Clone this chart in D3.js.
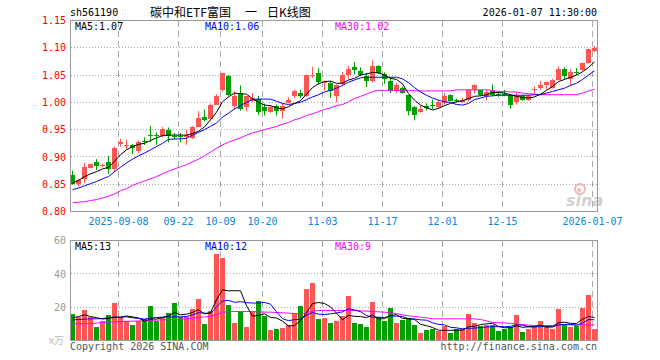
<!DOCTYPE html>
<html><head><meta charset="utf-8">
<script src="https://cdn.jsdelivr.net/npm/d3@7"></script>
<style>
body{margin:0;background:#fff}
svg{display:block}
text{font-family:"DejaVu Sans Mono",monospace;font-size:10px}
</style>
</head><body>
<svg id="c" width="660" height="360"></svg>
<script>
// ---------- data ----------
const code = "sh561190";
const titleParts = ["碳中和ETF富国","一","日K线图"];
const stamp = "2026-01-07 11:30:00";
const tickLabels = ["2025-09-08","09-22","10-09","10-20","11-03","11-17","12-01","12-15","2026-01-07"];
const tickIndex  = [8,18,25,32,42,52,62,72,87];
const priceTicks = [0.80,0.85,0.90,0.95,1.00,1.05,1.10,1.15];
const volTicks = [20,40,60];

const open = [.866,.851,.860,.880,.891,.883,.891,.878,.923,.921,.921,.910,.930,.941,.941,.939,.950,.939,.938,.937,.935,.955,.973,.970,.996,
1.022,1.049,.994,1.018,.992,1.002,1.007,.991,.982,.994,.985,.998,1.011,1.018,1.012,1.050,1.053,1.036,1.036,1.012,1.033,1.051,1.064,1.058,1.049,1.039,1.067,1.052,1.039,1.020,1.026,1.013,.991,
.982,.994,.995,.992,.998,1.014,1.004,1.001,1.004,1.025,1.022,1.011,1.020,1.016,1.016,1.013,1.000,1.011,1.005,1.022,1.026,1.031,1.026,1.041,1.061,1.042,1.055,1.059,1.072,1.095];
const close = [.851,.858,.881,.887,.884,.886,.878,.917,.928,.922,.916,.927,.928,.940,.940,.952,.939,.938,.937,.940,.955,.971,.967,.996,1.012,
1.053,1.014,1.012,.988,1.011,1.008,.982,.984,.992,.985,.994,1.004,1.020,1.012,1.051,1.051,1.037,1.038,1.020,1.031,1.051,1.061,1.059,1.050,1.039,1.067,1.053,1.043,1.020,1.031,1.018,.984,.977,
.988,.989,.994,1.000,1.012,1.003,1.002,1.005,1.022,1.031,1.014,1.019,1.013,1.015,1.015,.996,1.011,1.005,1.012,1.025,1.031,1.037,1.041,1.061,1.048,1.055,1.054,1.072,1.097,1.099];
const high = [.875,.860,.889,.888,.896,.887,.902,.919,.933,.932,.924,.930,.936,.957,.945,.955,.954,.944,.944,.950,.957,.984,.987,.998,1.015,
1.054,1.050,1.020,1.031,1.012,1.017,1.012,.998,.994,.996,.998,1.009,1.023,1.023,1.051,1.065,1.063,1.040,1.039,1.033,1.055,1.067,1.074,1.064,1.054,1.077,1.068,1.055,1.045,1.036,1.029,1.014,.993,
.994,.998,1.005,1.004,1.017,1.015,1.007,1.008,1.023,1.033,1.023,1.022,1.033,1.020,1.023,1.014,1.018,1.014,1.014,1.029,1.039,1.038,1.043,1.066,1.064,1.061,1.063,1.073,1.098,1.103];
const low = [.849,.846,.852,.879,.876,.881,.869,.873,.919,.914,.905,.907,.922,.927,.922,.936,.927,.932,.927,.922,.933,.955,.965,.970,.996,
1.020,1.011,.987,.985,.984,1.000,.977,.976,.981,.976,.970,.998,1.008,1.008,1.010,1.045,1.033,1.022,1.008,1.000,1.031,1.043,1.051,1.048,1.028,1.037,1.052,1.034,1.017,1.017,1.016,.976,.967,
.981,.985,.988,.990,.996,1.002,.999,.999,1.002,1.016,1.012,1.004,1.011,1.010,1.011,.988,.996,1.003,1.003,1.016,1.023,1.024,1.025,1.040,1.042,1.031,1.050,1.057,1.071,1.092];

const ma5 = [.852,.857,.864,.869,.873,.878,.881,.892,.904,.913,.919,.923,.925,.930,.935,.939,.940,.940,.940,.940,.943,.947,.955,.968,.982,
1.001,1.010,1.017,1.016,1.015,1.007,1.000,.995,.994,.990,.988,.992,.998,1.003,1.015,1.027,1.034,1.038,1.039,1.035,1.035,1.041,1.044,1.050,1.052,1.055,1.054,1.050,1.044,1.042,1.034,1.016,1.004,
.995,.990,.986,.989,.994,.998,1.001,1.003,1.007,1.011,1.012,1.014,1.018,1.018,1.017,1.014,1.011,1.009,1.008,1.010,1.015,1.022,1.029,1.038,1.042,1.046,1.050,1.056,1.064,1.074];
const ma10 = [.840,.843,.847,.851,.855,.860,.864,.873,.881,.889,.896,.902,.907,.913,.919,.925,.932,.933,.933,.934,.940,.945,.950,.956,.962,
.973,.980,.988,.994,1.000,1.005,1.006,1.006,1.006,1.002,.998,.996,.998,1.000,1.005,1.010,1.014,1.019,1.022,1.026,1.031,1.037,1.041,1.045,1.046,1.046,1.046,1.046,1.046,1.046,1.043,1.036,1.027,
1.019,1.013,1.008,1.004,1.001,1.000,.996,.995,.998,1.005,1.008,1.011,1.012,1.013,1.013,1.013,1.013,1.013,1.013,1.014,1.014,1.017,1.020,1.023,1.026,1.031,1.035,1.042,1.050,1.058];
const ma30 = [.816,.817,.818,.820,.822,.825,.828,.832,.838,.842,.848,.852,.856,.860,.864,.869,.874,.878,.882,.886,.891,.896,.902,.909,.916,
.922,.927,.931,.935,.940,.944,.947,.950,.953,.956,.960,.963,.968,.971,.976,.979,.983,.987,.990,.994,.996,1.001,1.007,1.011,1.015,1.020,1.022,1.022,1.022,1.022,1.022,1.022,1.021,
1.021,1.021,1.021,1.021,1.021,1.021,1.023,1.023,1.023,1.023,1.023,1.023,1.022,1.020,1.020,1.019,1.019,1.017,1.016,1.015,1.014,1.014,1.014,1.014,1.014,1.014,1.014,1.017,1.021,1.024];

const volume = [15.6,13.6,18.0,13.6,7.8,11.4,15.0,22.2,13.6,11.4,9.0,11.4,12.4,20.4,11.4,13.6,16.2,22.2,13.6,13.6,18.6,24.6,9.6,17.4,51.6,
49.2,21.0,10.2,17.0,7.8,17.0,23.4,14.6,6.0,6.6,7.4,9.0,16.0,20.4,30.6,34.4,12.6,13.2,10.2,11.4,14.4,26.4,10.2,9.6,7.8,23.0,13.8,11.4,19.2,10.2,12.0,13.2,9.0,
4.2,6.0,6.6,5.4,8.4,4.2,6.6,6.6,15.6,10.2,8.4,9.0,9.0,5.4,6.6,7.8,15.0,4.8,6.6,8.0,11.4,9.0,6.6,18.6,9.6,7.8,8.4,19.4,27.0,6.6];
const vma5 = [13.6,14.4,15.4,14.4,13.7,12.9,13.2,14.0,14.0,14.7,14.2,13.5,11.6,12.9,12.9,13.8,14.8,16.8,15.4,15.8,16.8,18.5,16.0,16.8,24.4,
30.5,29.8,29.9,29.8,21.0,14.6,15.1,16.0,13.8,13.5,11.6,8.7,9.0,11.9,16.7,22.1,22.8,22.2,20.2,16.4,12.4,15.1,14.5,14.4,13.7,15.4,12.9,13.1,15.0,15.5,13.3,13.2,12.7,
9.7,8.9,7.8,6.2,6.1,6.1,6.2,6.2,8.3,8.6,9.5,10.0,10.4,8.4,7.7,7.6,8.8,7.9,8.2,8.4,9.2,8.0,8.3,10.7,11.0,10.3,10.2,12.8,14.4,13.8];
const vma10 = [12.4,12.6,12.8,13.0,13.0,13.2,13.6,14.0,14.0,14.2,13.6,13.3,12.8,13.5,13.8,14.0,14.2,14.2,14.2,14.4,15.3,16.7,16.4,16.1,20.1,
23.7,24.1,22.9,23.3,22.7,22.5,22.4,22.9,21.8,17.3,13.1,11.9,12.5,12.8,15.1,16.8,15.8,15.6,16.0,16.5,17.2,19.0,18.4,17.3,15.0,13.9,14.0,13.8,14.7,14.6,14.4,13.0,12.9,
12.4,12.2,10.6,9.7,9.4,7.9,7.6,7.0,7.3,7.4,7.8,8.1,8.3,8.3,8.2,8.5,9.4,9.2,8.3,8.1,8.4,8.4,8.1,9.4,9.7,9.7,9.1,10.5,12.6,12.4];
const vma30 = [10.0,10.0,10.0,10.2,10.4,10.8,11.0,11.2,11.4,11.5,11.6,11.7,11.8,12.0,12.2,12.4,12.5,12.6,12.8,13.0,13.4,13.8,14.2,14.4,15.6,
17.0,17.2,17.4,17.4,17.4,17.4,17.2,17.0,17.0,16.8,16.6,16.4,16.2,16.0,16.6,17.6,18.0,18.0,18.0,18.0,18.0,18.0,18.0,17.8,17.6,17.4,17.2,17.0,16.6,16.2,15.4,14.8,14.4,
14.0,13.6,13.0,13.0,13.0,13.0,13.0,13.0,13.0,13.0,12.6,11.8,10.8,10.6,10.6,10.2,10.0,9.6,9.2,9.0,9.0,9.0,9.0,9.2,9.4,9.4,9.4,9.4,9.4,9.4];

const priceLegend = [["MA5:1.07","#000"],["MA10:1.06","#0000ff"],["MA30:1.02","#ff00ff"]];
const volLegend = [["MA5:13","#000"],["MA10:12","#0000ff"],["MA30:9","#ff00ff"]];

// ---------- drawing ----------
const RED="#ff5555", GREEN="#00a000";
const n = open.length;
const svg = d3.select("#c");
const L=70, W=528;
const x = d3.scaleBand().domain(d3.range(n)).range([L, L+W]).paddingInner(1/6).paddingOuter(1/12).align(0);
const cx = i => x(i) + x.bandwidth()/2;
const y = d3.scaleLinear().domain([0.80,1.15]).range([211.5,20.5]);
const yv = d3.scaleLinear().domain([0,60]).range([340.5,240.5]);

// header
svg.append("text").attr("x",70).attr("y",16).attr("fill","#000").text(code);
[150,245,267].forEach((tx,k)=>{
  svg.append("text").attr("x",tx).attr("y",17)
    .style("font-family",'"Noto Sans CJK SC",sans-serif').style("font-size","12px").attr("fill","#000").text(titleParts[k]);
});
svg.append("text").attr("x",597).attr("y",16).attr("text-anchor","end").attr("fill","#000").text(stamp);

function panel(top,bottom,gridVals,ys){
  const g = svg.append("g");
  gridVals.forEach(v=>{
    const yy = Math.round(ys(v)-0.5)+0.5;
    g.append("line").attr("x1",71).attr("x2",597).attr("y1",yy).attr("y2",yy)
      .attr("stroke","#aaa").attr("stroke-dasharray","1,2");
  });
  tickIndex.forEach(i=>{
    const xx = x(i)+0.5;
    g.append("line").attr("x1",xx).attr("x2",xx).attr("y1",top).attr("y2",bottom)
      .attr("stroke","#aaa").attr("stroke-dasharray","6,4");
  });
  return g;
}

// price panel
panel(21,211,[0.85,0.90,0.95,1.00,1.05,1.10],y);
svg.append("g").selectAll("g.c").data(d3.range(n)).join("g").each(function(i){
  const g=d3.select(this);
  const up = close[i]>=open[i];
  const col = up?RED:GREEN;
  g.append("line").attr("x1",cx(i)).attr("x2",cx(i)).attr("y1",y(high[i])).attr("y2",y(low[i])).attr("stroke",col);
  const t = Math.round(y(Math.max(open[i],close[i])));
  const b = Math.round(y(Math.min(open[i],close[i])));
  g.append("rect").attr("x",x(i)).attr("width",x.bandwidth()).attr("y",t).attr("height",Math.max(1,b-t)).attr("fill",col);
});
const pline = d3.line().x((d,i)=>cx(i)).y(d=>y(d));
[[ma30,"#ff00ff"],[ma10,"#0000ff"],[ma5,"#000"]].forEach(([arr,c])=>{
  svg.append("path").attr("d",pline(arr)).attr("fill","none").attr("stroke",c).attr("stroke-width",1);
});

// sina watermark
const wm = svg.append("g").attr("opacity",0.85);
wm.append("circle").attr("cx",580).attr("cy",189).attr("r",5).attr("fill","none").attr("stroke","#f3a5a5").attr("stroke-width",2);
wm.append("circle").attr("cx",579).attr("cy",190).attr("r",2).attr("fill","#f3a5a5");
wm.append("text").attr("x",566).attr("y",206).style("font-family","DejaVu Sans").style("font-size","16px")
  .style("font-style","italic").style("font-weight","bold").attr("fill","#c9c9c9").text("sina");

svg.append("rect").attr("x",70.5).attr("y",20.5).attr("width",527).attr("height",191)
  .attr("fill","none").attr("stroke","#999");

// price y labels
const ay = svg.append("g").attr("transform","translate(70,0)")
  .call(d3.axisLeft(y).tickValues(priceTicks).tickFormat(d3.format(".2f")).tickSize(0).tickPadding(4));
ay.select(".domain").remove();
ay.selectAll("text").attr("fill","#ff0000").style("font-family",'"DejaVu Sans Mono",monospace').style("font-size","10px");

// date labels
svg.append("g").selectAll("text").data(tickIndex).join("text")
  .attr("x",i=>x(i)+0.5).attr("y",225).attr("text-anchor","middle").attr("fill","#0a86d8")
  .text((d,k)=>tickLabels[k]);

// legends
priceLegend.forEach(([t,c],k)=>svg.append("text").attr("x",75+k*130).attr("y",29.5).attr("fill",c).text(t));

// volume panel
panel(241,340,[20,40],yv);
svg.append("g").selectAll("rect").data(d3.range(n)).join("rect")
  .attr("x",i=>x(i)).attr("width",x.bandwidth())
  .attr("y",i=>Math.round(yv(volume[i])-0.5)).attr("height",i=>340-Math.round(yv(volume[i])-0.5))
  .attr("fill",i=>close[i]>=open[i]?RED:GREEN);
const vline = d3.line().x((d,i)=>cx(i)).y(d=>yv(d));
[[vma30,"#ff00ff"],[vma10,"#0000ff"],[vma5,"#000"]].forEach(([arr,c])=>{
  svg.append("path").attr("d",vline(arr)).attr("fill","none").attr("stroke",c).attr("stroke-width",1);
});
svg.append("rect").attr("x",70.5).attr("y",240.5).attr("width",527).attr("height",100)
  .attr("fill","none").attr("stroke","#999");
const av = svg.append("g").attr("transform","translate(70,0)")
  .call(d3.axisLeft(yv).tickValues(volTicks).tickSize(0).tickPadding(4));
av.select(".domain").remove();
av.selectAll("text").attr("fill","#999").style("font-family",'"DejaVu Sans Mono",monospace').style("font-size","10px");
svg.append("text").attr("x",49).attr("y",344).attr("fill","#bbb").style("font-family",'"Noto Sans CJK SC",sans-serif').text("x万");
volLegend.forEach(([t,c],k)=>svg.append("text").attr("x",75+k*130).attr("y",250).attr("fill",c).text(t));

// footer
svg.append("text").attr("x",70).attr("y",350).attr("fill","#555").text("Copyright 2026 SINA.COM");
svg.append("text").attr("x",597).attr("y",350).attr("text-anchor","end").attr("fill","#555").text("http://finance.sina.com.cn");
</script>
</body></html>
